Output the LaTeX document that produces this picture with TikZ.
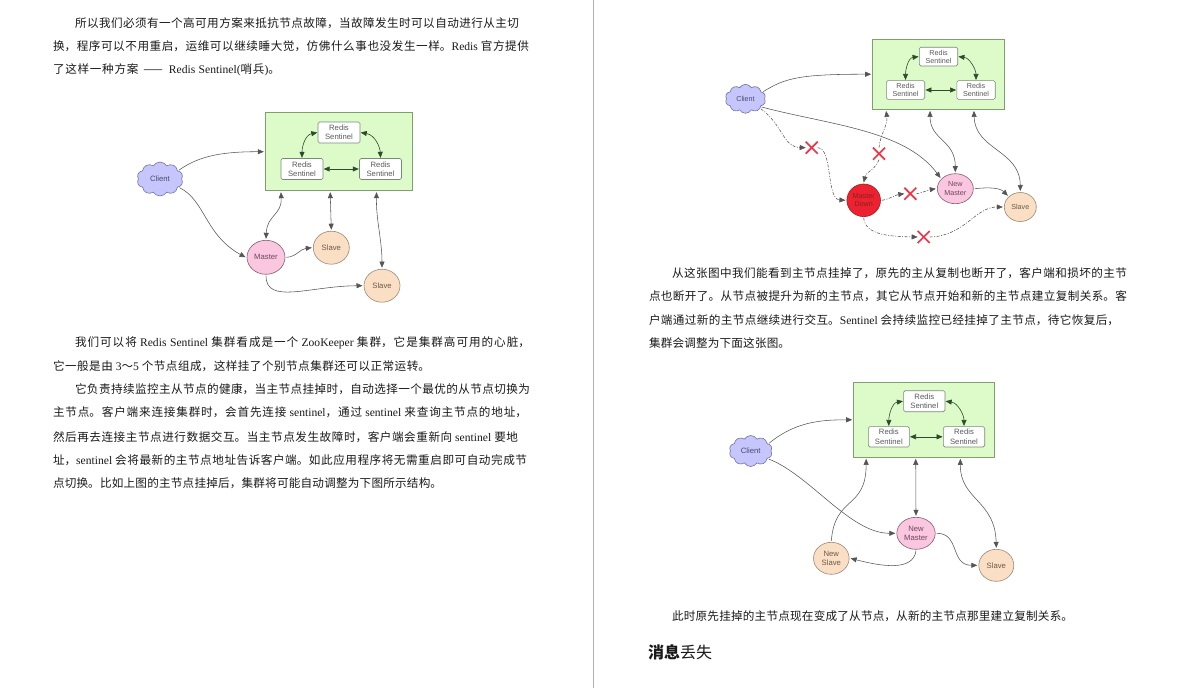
\documentclass[tikz,border=0pt]{standalone}
\usepackage{fontspec}
\usetikzlibrary{arrows.meta,shapes.symbols,shapes.misc,shapes.geometric}
\setmainfont{Noto Sans CJK SC}
\newfontfamily\latf{Liberation Serif}
\newfontfamily\diaf{Liberation Sans}
\newcommand\lat[1]{{\latf #1}}
\newcommand\jline[2]{\parbox{#1pt}{\parindent=0pt\rightskip=0pt\leftskip=0pt\parfillskip=0pt\tolerance=10000\emergencystretch=0pt\XeTeXlinebreaklocale "zh"\XeTeXlinebreakskip=0pt plus 2pt minus 0.2pt\relax\fontsize{11.6}{14}\selectfont #2\par}}
\definecolor{inkc}{HTML}{1A1A1A}
\definecolor{lnc}{HTML}{555555}
\definecolor{lbl}{HTML}{5A5A5A}
\definecolor{gbd}{HTML}{7F9F70}
\definecolor{gbf}{HTML}{DDFBC9}
\definecolor{sbd}{HTML}{7A8A7A}
\definecolor{clb}{HTML}{7070A8}
\definecolor{clf}{HTML}{C6C6FC}
\definecolor{clt}{HTML}{4A4A70}
\definecolor{mbd}{HTML}{806070}
\definecolor{mbf}{HTML}{FBC6E0}
\definecolor{mtx}{HTML}{6A4A5A}
\definecolor{pbd}{HTML}{9A8A78}
\definecolor{pbf}{HTML}{FBDFC4}
\definecolor{ptx}{HTML}{6A5A4A}
\definecolor{dbd}{HTML}{A02020}
\definecolor{dbf}{HTML}{EC2230}
\definecolor{dtx}{HTML}{8A2020}
\definecolor{xcol}{HTML}{EE3344}
\definecolor{inc}{HTML}{2C4A2C}
\definecolor{divc}{HTML}{B0B0B0}
\tikzset{
  >={Triangle[length=6pt,width=5pt]},
  txt/.style={anchor=west,inner sep=0pt,outer sep=0pt,text=inkc},
  gbox/.style={rectangle,draw=gbd,fill=gbf,line width=0.7pt,inner sep=0pt,outer sep=1.5pt},
  sent/.style={rectangle,rounded corners=1.5pt,draw=sbd,fill=white,line width=0.6pt,inner sep=0pt,outer sep=0.7pt,font=\diaf\fontsize{7.7}{9.2}\selectfont,text=lbl,align=center,minimum width=42pt,minimum height=21pt},
  cli/.style={cloud,cloud puffs=10,cloud puff arc=120,cloud ignores aspect,draw=clb,fill=clf,line width=0.6pt,inner sep=0pt,outer sep=1pt,font=\diaf\fontsize{7.7}{9.2}\selectfont,text=clt},
  roundn/.style={ellipse,line width=0.6pt,inner sep=0pt,outer sep=1.5pt,font=\diaf\fontsize{7.7}{9.2}\selectfont,align=center},
  mast/.style={roundn,draw=mbd,fill=mbf,text=mtx},
  slv/.style={roundn,draw=pbd,fill=pbf,text=ptx},
  dead/.style={roundn,draw=dbd,fill=dbf,text=dtx},
  xmark/.style={cross out,draw=xcol,line width=1.7pt,minimum size=10pt,inner sep=0pt,outer sep=1pt},
  lnk/.style={draw=lnc,line width=0.55pt},
  dlnk/.style={draw=lnc,line width=0.55pt,dash pattern=on 3pt off 1.5pt on 1pt off 1.5pt},
  ilnk/.style={draw=inc,line width=0.6pt},
  tiny2/.style={font=\diaf\fontsize{7.2}{8.3}\selectfont}
}
\begin{document}
\begin{tikzpicture}[x=1pt,y=-1pt]
\useasboundingbox (0,0) rectangle (1177,688);
\fill[white] (0,0) rectangle (1177,688);
\draw[divc,line width=0.7pt] (593,0) -- (593,688);
% left text
\node[txt] (a1) at (75,23) {\jline{444}{所以我们必须有一个高可用方案来抵抗节点故障，当故障发生时可以自动进行从主切}};
\node[txt] (a2) at (53,46) {\jline{476}{换，程序可以不用重启，运维可以继续睡大觉，仿佛什么事也没发生一样。\lat{Redis} 官方提供}};
\node[txt] (a3) at (53,70) {\jline{227}{了这样一种方案\hspace{5pt}——\hspace{6pt}\lat{Redis Sentinel(}哨兵\lat{)}。}};
\node[txt] (a4) at (75,343) {\jline{455}{我们可以将 \lat{Redis Sentinel} 集群看成是一个 \lat{ZooKeeper} 集群，它是集群高可用的心脏，}};
\node[txt] (a5) at (53,366) {\jline{377}{它一般是由 \lat{3}～\lat{5} 个节点组成，这样挂了个别节点集群还可以正常运转。}};
\node[txt] (a6) at (75,389) {\jline{455}{它负责持续监控主从节点的健康，当主节点挂掉时，自动选择一个最优的从节点切换为}};
\node[txt] (a7) at (53,412) {\jline{474}{主节点。客户端来连接集群时，会首先连接 \lat{sentinel}，通过 \lat{sentinel} 来查询主节点的地址，}};
\node[txt] (a8) at (53,437) {\jline{465}{然后再去连接主节点进行数据交互。当主节点发生故障时，客户端会重新向 \lat{sentinel} 要地}};
\node[txt] (a9) at (53,460) {\jline{474}{址，\lat{sentinel} 会将最新的主节点地址告诉客户端。如此应用程序将无需重启即可自动完成节}};
\node[txt] (a10) at (53,483) {\jline{389}{点切换。比如上图的主节点挂掉后，集群将可能自动调整为下图所示结构。}};
% right text
\node[txt] (b1) at (672,273) {\jline{455}{从这张图中我们能看到主节点挂掉了，原先的主从复制也断开了，客户端和损坏的主节}};
\node[txt] (b2) at (649,296) {\jline{478}{点也断开了。从节点被提升为新的主节点，其它从节点开始和新的主节点建立复制关系。客}};
\node[txt] (b3) at (649,320) {\jline{470}{户端通过新的主节点继续进行交互。\lat{Sentinel} 会持续监控已经挂掉了主节点，待它恢复后，}};
\node[txt] (b4) at (649,343) {\jline{141}{集群会调整为下面这张图。}};
\node[txt] (b5) at (672,616) {\jline{401}{此时原先挂掉的主节点现在变成了从节点，从新的主节点那里建立复制关系。}};
\node[txt,font=\fontsize{16}{18}\selectfont] (b6) at (648,652) {\textbf{消息}丢失};

% ---- diagram 1
\node[gbox,minimum width=147pt,minimum height=78pt] (box1) at (338.8,151.7) {};
\node[sent] (s1t) at (339,132.5) {Redis\\Sentinel};
\node[sent] (s1l) at (302,169) {Redis\\Sentinel};
\node[sent] (s1r) at (380.5,169) {Redis\\Sentinel};
\node[cli,minimum width=46pt,minimum height=34pt] (c1) at (160,179) {Client};
\node[mast,minimum width=38pt,minimum height=34pt] (m1) at (266,257.3) {Master};
\node[slv,minimum width=36pt,minimum height=33pt] (p1a) at (331.3,247.7) {Slave};
\node[slv,minimum width=36pt,minimum height=33pt] (p1b) at (382,285.7) {Slave};
\draw[ilnk,<->] (s1t.west) .. controls (305,135) and (302,147) .. (s1l.north);
\draw[ilnk,<->] (s1t.east) .. controls (375,135) and (380,147) .. (s1r.north);
\draw[ilnk,<->] (s1l.east) -- (s1r.west);
\draw[lnk,->] (c1.25) .. controls (200,155) and (225,151.7) .. (box1.west);
\draw[lnk,->] (c1.-24) .. controls (205,200) and (205,235) .. (m1.west);
\draw[lnk,<->] (box1.-145.2) .. controls (282,215) and (267,215) .. (m1.north);
\draw[lnk,<->] (box1.-102.3) -- (p1a.north);
\draw[lnk,<->] (box1.-47.1) .. controls (376,220) and (382,240) .. (p1b.north);
\draw[lnk,->] (m1.east) .. controls (296,257) and (300,249) .. (p1a.west);
\draw[lnk,->] (m1.south) .. controls (266,305) and (310,286) .. (p1b.west);

% ---- diagram 2
\node[gbox,minimum width=131.6pt,minimum height=70.4pt] (box2) at (938.5,74.2) {};
\node[sent,tiny2,minimum width=38.4pt,minimum height=18.7pt] (s2t) at (938.5,56.6) {Redis\\Sentinel};
\node[sent,tiny2,minimum width=38.4pt,minimum height=18.7pt] (s2l) at (905.5,90) {Redis\\Sentinel};
\node[sent,tiny2,minimum width=38.4pt,minimum height=18.7pt] (s2r) at (976,90) {Redis\\Sentinel};
\node[cli,tiny2,minimum width=40.4pt,minimum height=29pt] (c2) at (745.5,98.8) {Client};
\node[dead,tiny2,minimum width=33.6pt,minimum height=32.6pt] (d2) at (863.7,200.3) {Master\\Down};
\node[mast,tiny2,minimum width=36pt,minimum height=30pt] (m2) at (955.3,188.7) {New\\Master};
\node[slv,tiny2,minimum width=32pt,minimum height=29pt] (p2) at (1020.3,207) {Slave};
\node[xmark] (x1) at (811.7,147.7) {};
\node[xmark] (x2) at (879,153.7) {};
\node[xmark] (x3) at (910.3,193.7) {};
\node[xmark] (x4) at (923.7,237) {};
\draw[ilnk,<->] (s2t.west) .. controls (908,58) and (905.5,70) .. (s2l.north);
\draw[ilnk,<->] (s2t.east) .. controls (970,58) and (976,70) .. (s2r.north);
\draw[ilnk,<->] (s2l.east) -- (s2r.west);
\draw[lnk,->] (c2.22) .. controls (785,78) and (800,74.2) .. (box2.west);
\draw[lnk,->] (c2.-27) .. controls (830,125) and (905,130) .. (m2.144);
\draw[lnk,<->] (box2.-103.6) .. controls (930,140) and (955.3,140) .. (m2.north);
\draw[lnk,<->] (box2.-46.7) .. controls (975,150) and (1020,150) .. (p2.north);
\draw[lnk,->] (m2.east) .. controls (990,187) and (1000,188) .. (p2.138);
\draw[dlnk,->] (c2.-33) .. controls (783,125) and (783,147) .. (x1.west);
\draw[dlnk,->] (x1.east) .. controls (833,148) and (826,199) .. (d2.west);
\draw[dlnk,->] (x2.north) .. controls (880,135) and (888,125) .. (box2.-145);
\draw[dlnk,->] (x2.south) .. controls (875,170) and (866,172) .. (d2.north);
\draw[dlnk,->] (d2.east) .. controls (890,199) and (895,195) .. (x3.west);
\draw[dlnk,->] (x3.east) .. controls (922,193) and (928,190) .. (m2.west);
\draw[dlnk,->] (d2.south) .. controls (865,235) and (890,236.5) .. (x4.west);
\draw[dlnk,->] (x4.east) .. controls (965,236) and (975,207) .. (p2.west);

% ---- diagram 3
\node[gbox,minimum width=140.6pt,minimum height=75pt] (box3) at (924,419.8) {};
\node[sent,minimum width=41.3pt,minimum height=21pt] (s3t) at (924.3,401.2) {Redis\\Sentinel};
\node[sent,minimum width=41pt,minimum height=20.3pt] (s3l) at (888.8,436.8) {Redis\\Sentinel};
\node[sent,minimum width=41.4pt,minimum height=20.3pt] (s3r) at (964,436.8) {Redis\\Sentinel};
\node[cli,minimum width=43pt,minimum height=31pt] (c3) at (750.7,451) {Client};
\node[mast,minimum width=38.4pt,minimum height=32pt] (m3) at (916,533.3) {New\\Master};
\node[slv,minimum width=35.6pt,minimum height=32pt] (p3a) at (831.3,558.3) {New\\Slave};
\node[slv,minimum width=35pt,minimum height=32pt] (p3b) at (996.3,565.3) {Slave};
\draw[ilnk,<->] (s3t.west) .. controls (892,403) and (888.8,415) .. (s3l.north);
\draw[ilnk,<->] (s3t.east) .. controls (958,403) and (964,415) .. (s3r.north);
\draw[ilnk,<->] (s3l.east) -- (s3r.west);
\draw[lnk,->] (c3.23) .. controls (795,422) and (820,419.8) .. (box3.west);
\draw[lnk,->] (c3.-24) .. controls (810,475) and (850,533.3) .. (m3.west);
\draw[lnk,->] (p3a.north) .. controls (835,495) and (866,510) .. (box3.-146.8);
\draw[lnk,<->] (box3.-102) -- (m3.north);
\draw[lnk,<->] (box3.-47.6) .. controls (960,500) and (995,500) .. (p3b.north);
\draw[lnk,->] (m3.east) .. controls (960,533) and (950,565.3) .. (p3b.west);
\draw[lnk,->] (m3.south) .. controls (913,572) and (880,566) .. (p3a.east);
\end{tikzpicture}
\end{document}
